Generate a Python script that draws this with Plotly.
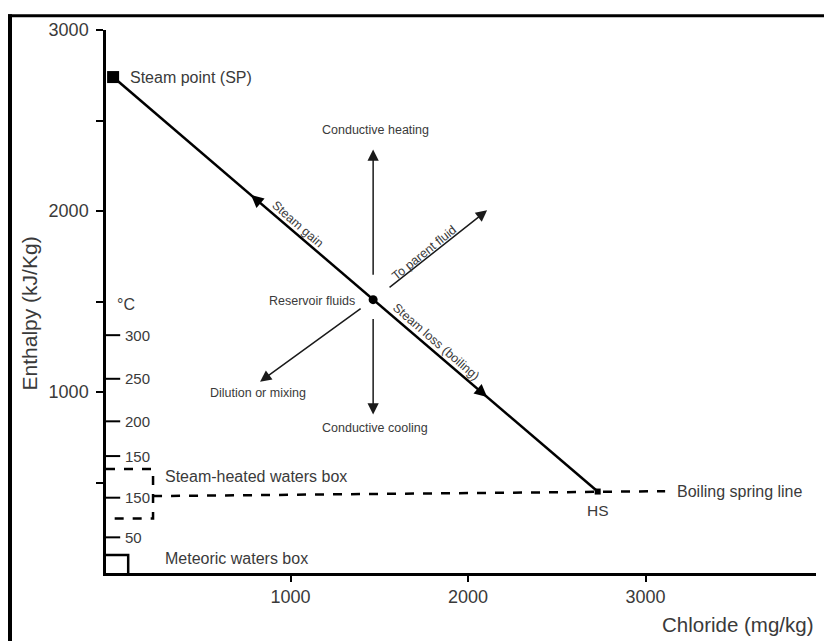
import plotly.graph_objects as go

# ---- data (chloride mg/kg, enthalpy kJ/kg) ----
steam_point = [0, 2740]
hot_spring = [2730, 450]
reservoir = [1465, 1510]
boiling_line_x = [225, 2730, 3110]
boiling_line_y = [425, 450, 452]
steam_box_x = [-40, 225, 225, -40]
steam_box_y = [575, 575, 301, 301]
meteoric_box_x = [-40, 85, 85]
meteoric_box_y = [100, 100, 0]
axis_ticks = [1000, 2000, 3000]
minor_y_ticks = [500, 1500, 2500]
temp_labels = ["300", "250", "200", "150", "150", "50"]
temp_enthalpy = [1314, 1073, 838, 646, 416, 197]

# process arrows: (tail_x, tail_y, head_x, head_y)
arrows = [
    (1465, 1640, 1465, 2340),   # conductive heating
    (1465, 1412, 1465, 876),    # conductive cooling
    (1549, 1571, 2107, 2004),   # to parent fluid
    (1403, 1467, 828, 1057),    # dilution or mixing
]
line_arrow_x = [(830, 777), (2050, 2107)]  # (tail_x, head_x) along steam line

TXT = "#3a3a3a"
FONT = "Liberation Sans"

def on_line(x):
    x0, y0 = steam_point
    x1, y1 = hot_spring
    return y0 + (y1 - y0) * (x - x0) / (x1 - x0)

fig = go.Figure()

fig.add_trace(go.Scatter(x=[steam_point[0], hot_spring[0]], y=[steam_point[1], hot_spring[1]],
                         mode="lines", line=dict(color="black", width=2.5), hoverinfo="skip"))
fig.add_trace(go.Scatter(x=boiling_line_x, y=boiling_line_y, mode="lines",
                         line=dict(color="black", width=2.5, dash="dash"), hoverinfo="skip"))
fig.add_trace(go.Scatter(x=steam_box_x, y=steam_box_y, mode="lines",
                         line=dict(color="black", width=2.5, dash="dash"), hoverinfo="skip"))
fig.add_trace(go.Scatter(x=meteoric_box_x, y=meteoric_box_y, mode="lines",
                         line=dict(color="black", width=2.5), hoverinfo="skip"))
for t in temp_enthalpy:
    fig.add_trace(go.Scatter(x=[-40, 40], y=[t, t], mode="lines",
                             line=dict(color="black", width=2), hoverinfo="skip"))
fig.add_trace(go.Scatter(x=[steam_point[0]], y=[steam_point[1]], mode="markers",
                         marker=dict(symbol="square", size=12, color="black"), hoverinfo="skip"))
fig.add_trace(go.Scatter(x=[hot_spring[0]], y=[hot_spring[1]], mode="markers",
                         marker=dict(symbol="square", size=6, color="black"), hoverinfo="skip"))
fig.add_trace(go.Scatter(x=[reservoir[0]], y=[reservoir[1]], mode="markers",
                         marker=dict(symbol="circle", size=9, color="black"), hoverinfo="skip"))

ann = []
for tx, ty, hx, hy in arrows:
    ann.append(dict(x=hx, y=hy, ax=tx, ay=ty, xref="x", yref="y", axref="x", ayref="y",
                    text="", showarrow=True, arrowhead=2, arrowsize=1.5, arrowwidth=1.5,
                    arrowcolor="#1a1a1a", standoff=0, startstandoff=0))
for tx, hx in line_arrow_x:
    ann.append(dict(x=hx, y=on_line(hx), ax=tx, ay=on_line(tx), xref="x", yref="y",
                    axref="x", ayref="y", text="", showarrow=True, arrowhead=2,
                    arrowsize=1, arrowwidth=2.5, arrowcolor="black", standoff=0))

def label(x, y, text, size=12.5, xanchor="center", angle=0, color=TXT):
    ann.append(dict(x=x, y=y, xref="x", yref="y", text=text, showarrow=False,
                    xanchor=xanchor, yanchor="middle", textangle=angle,
                    font=dict(family=FONT, size=size, color=color)))

label(1476, 2447, "Conductive heating")
label(1476, 799, "Conductive cooling")
label(1375, 1505, "Reservoir fluids", xanchor="right")
label(817, 996, "Dilution or mixing")
label(1037, 1927, "Steam gain", angle=41)
label(1820, 1275, "Steam loss (boiling)", angle=41)
label(1752, 1768, "To parent fluid", angle=-39)
label(85, 2737, "Steam point (SP)", size=16, xanchor="left")
label(282, 531, "Steam-heated waters box", size=16, xanchor="left")
label(282, 82, "Meteoric waters box", size=16, xanchor="left")
label(3166, 449, "Boiling spring line", size=16, xanchor="left")
label(2732, 345, "HS", size=15.5)
label(11, 1484, "°C", size=16, xanchor="left")
for lab, t in zip(temp_labels, temp_enthalpy):
    label(55, t, lab, size=15, xanchor="left")

ann.append(dict(xref="paper", yref="paper", x=1.0, y=0, xanchor="right", yanchor="top",
                yshift=-38, text="Chloride (mg/kg)", showarrow=False,
                font=dict(family=FONT, size=20.5, color=TXT)))
ann.append(dict(xref="paper", yref="paper", x=0, y=0.478, xanchor="center", yanchor="middle",
                xshift=-77, textangle=-90, text="Enthalpy (kJ/Kg)", showarrow=False,
                font=dict(family=FONT, size=21, color=TXT)))

# page body has an 8px margin: figure coords = screen coords - 8
OFF = 8
FW, FH = 832 - OFF, 641 - OFF
L, T, W, H = 106 - OFF, 25 - OFF, 710, 548
def px(x): return (x - OFF - L) / W
def py(y): return (T + H - (y - OFF)) / H

shapes = [
    dict(type="line", xref="paper", yref="paper", x0=px(10), x1=px(10), y0=py(9), y1=py(645),
         line=dict(color="black", width=4)),
    dict(type="line", xref="paper", yref="paper", x0=px(8), x1=px(835), y0=py(10.5), y1=py(10.5),
         line=dict(color="black", width=3)),
]

fig.update_layout(
    width=FW, height=FH,
    margin=dict(l=L, r=FW - L - W, t=T, b=FH - T - H),
    paper_bgcolor="white", plot_bgcolor="white",
    showlegend=False,
    annotations=ann, shapes=shapes,
    font=dict(family=FONT, color=TXT),
    xaxis=dict(range=[-40, 3960], tickvals=axis_ticks, showgrid=False, zeroline=False,
               showline=True, linecolor="black", linewidth=2.5, ticks="outside",
               ticklen=6, tickwidth=2, tickcolor="black", ticklabelstandoff=0,
               tickfont=dict(family=FONT, size=18, color=TXT)),
    yaxis=dict(range=[0, 3000], tickvals=axis_ticks, showgrid=False, zeroline=False,
               showline=True, linecolor="black", linewidth=2.5, ticks="outside",
               ticklen=7, tickwidth=2, tickcolor="black", ticklabelstandoff=4,
               tickfont=dict(family=FONT, size=18, color=TXT),
               minor=dict(tickvals=minor_y_ticks, ticks="outside", ticklen=7, tickwidth=2,
                          tickcolor="black", showgrid=False)),
)

fig.write_html("out.html")
